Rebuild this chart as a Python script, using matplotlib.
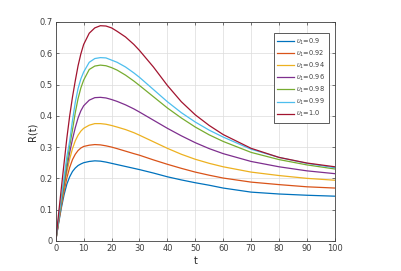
"""Reliability curves R(t) for several upsilon_1 values (MATLAB-style figure)."""

import matplotlib
matplotlib.use("Agg")
import matplotlib.pyplot as plt

# Values
t = [0, 1, 2, 3, 4, 5, 6, 7, 8, 9, 10, 12, 14, 16, 18, 20, 22, 25, 28, 30,
     35, 40, 45, 50, 55, 60, 70, 80, 90, 100]

r_090 = [0, .055, .105, .148, .182, .205, .222, .233, .241, .246, .250, .254, .256, .255,
         .252, .248, .244, .238, .232, .228, .217, .205, .195, .186, .178, .169, .156,
         .150, .146, .143]
r_092 = [0, .058, .112, .160, .202, .235, .260, .277, .289, .297, .302, .306, .308, .307,
         .304, .300, .295, .287, .279, .274, .259, .245, .232, .220, .210, .201, .188,
         .180, .173, .169]
r_094 = [0, .060, .118, .172, .220, .262, .295, .320, .338, .351, .360, .370, .375, .375,
         .373, .369, .364, .356, .346, .338, .317, .296, .277, .261, .248, .237, .220,
         .209, .200, .194]
r_096 = [0, .062, .122, .180, .235, .283, .325, .362, .393, .416, .432, .450, .458, .459,
         .457, .452, .446, .435, .422, .412, .386, .360, .336, .314, .295, .279, .254,
         .237, .224, .215]
r_098 = [0, .065, .128, .190, .250, .304, .355, .410, .455, .489, .514, .548, .559, .562,
         .560, .554, .546, .530, .511, .497, .461, .425, .393, .364, .339, .318, .283,
         .260, .243, .230]
r_099 = [0, .070, .138, .205, .270, .320, .385, .443, .487, .518, .540, .571, .583, .586,
         .585, .578, .571, .556, .537, .523, .484, .445, .410, .380, .354, .332, .293,
         .267, .248, .234]
r_100 = [0, .085, .168, .250, .330, .400, .460, .512, .560, .598, .628, .664, .681, .688,
         .687, .681, .670, .652, .628, .609, .556, .497, .445, .403, .369, .340, .296,
         .267, .249, .237]

series = [r_090, r_092, r_094, r_096, r_098, r_099, r_100]
labels = ["0.9", "0.92", "0.94", "0.96", "0.98", "0.99", "1.0"]
colors = ["#0072BD", "#D95319", "#EDB120", "#7E2F8E", "#77AC30", "#4DBEEE", "#A2142F"]

fig = plt.figure(figsize=(4.01, 2.71), dpi=100)
ax = fig.add_axes([0.139, 0.111, 0.696, 0.808])

for vals, lab, col in zip(series, labels, colors):
    ax.plot(t, vals, color=col, linewidth=0.9, label=r"$\upsilon_1$=" + lab)

ax.set_xlim(0, 100)
ax.set_ylim(0, 0.7)
ax.set_xticks(range(0, 101, 10))
ax.set_yticks([0, 0.1, 0.2, 0.3, 0.4, 0.5, 0.6, 0.7])
ax.set_yticklabels(["0", "0.1", "0.2", "0.3", "0.4", "0.5", "0.6", "0.7"])
ax.grid(True, color="#dcdcdc", linewidth=0.5)
ax.set_axisbelow(True)
ax.tick_params(direction="in", length=2.5, width=0.5, labelsize=6, colors="#404040",
               top=True, right=True, pad=2.5)
for sp in ax.spines.values():
    sp.set_color("#404040")
    sp.set_linewidth(0.6)

ax.set_xlabel("t", fontsize=7, color="#262626", labelpad=2)
ax.set_ylabel("R(t)", fontsize=7, color="#262626", labelpad=1)

leg = ax.legend(loc="upper right", bbox_to_anchor=(0.978, 0.950), fontsize=4.8,
                handlelength=2.5, handletextpad=0.3, labelspacing=0.28,
                borderpad=0.55, fancybox=False, framealpha=1, borderaxespad=0)
leg.get_frame().set_edgecolor("#404040")
leg.get_frame().set_linewidth(0.6)
for txt in leg.get_texts():
    txt.set_color("#404040")

fig.savefig("out.png", dpi=100)
plt.close(fig)
